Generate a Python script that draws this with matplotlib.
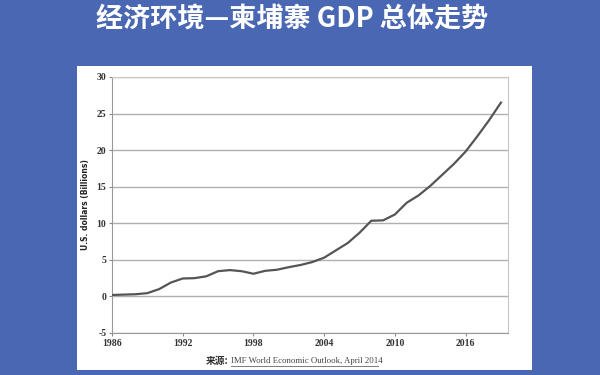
import matplotlib
matplotlib.use("Agg")
import matplotlib.pyplot as plt
from matplotlib.patches import Rectangle
from matplotlib.lines import Line2D

years = list(range(1986, 2020))
gdp = [0.2, 0.25, 0.3, 0.45, 1.0, 1.9, 2.45, 2.5, 2.75, 3.45,
       3.6, 3.45, 3.1, 3.5, 3.65, 4.0, 4.3, 4.7, 5.3, 6.3,
       7.3, 8.7, 10.35, 10.4, 11.2, 12.8, 13.8, 15.1, 16.6, 18.1,
       19.8, 21.9, 24.1, 26.5]
yticks = [-5, 0, 5, 10, 15, 20, 25, 30]
xticks = [1986, 1992, 1998, 2004, 2010, 2016]

title = "经济环境—柬埔寨 GDP 总体走势"
source = "IMF World Economic Outlook, April 2014"

plt.rcParams['font.family'] = ['Noto Sans CJK SC', 'DejaVu Sans']

fig = plt.figure(figsize=(6, 3.75), dpi=100)
fig.patch.set_facecolor('#4a67b3')

# white slide panel
fig.add_artist(Rectangle((77 / 600, 1 - 370 / 375), (532 - 77) / 600, (370 - 66) / 375,
                         transform=fig.transFigure, facecolor='white', edgecolor='none', zorder=0))

fig.text(0.487, 1 - 20 / 375, title, color='white', fontsize=19.5, fontweight='bold',
         ha='center', va='center')

ax = fig.add_axes([112 / 600, 1 - 333 / 375, (508 - 112) / 600, (333 - 77) / 375])
ax.set_facecolor('white')
ax.plot(years, gdp, color='#555555', lw=1.6, zorder=3)
ax.set_xlim(1986, 2019.6)
ax.set_ylim(-5, 30)
ax.set_yticks(yticks)
ax.set_xticks(xticks)
ax.set_yticklabels([str(v) for v in yticks])
ax.grid(axis='y', color='#b0b0b0', lw=1.0)
for s in ax.spines.values():
    s.set_color('#c8c8c8')
    s.set_linewidth(0.8)
ax.spines['left'].set_color('#999999')
ax.spines['bottom'].set_color('#999999')
ax.tick_params(axis='both', length=2, color='#888888', pad=2, labelsize=7, labelcolor='#333333')
for lab in ax.get_xticklabels() + ax.get_yticklabels():
    lab.set_family('Liberation Serif')
    lab.set_fontweight('bold')
ax.set_ylabel('U.S. dollars (Billions)', fontsize=5.5, fontweight='bold', color='#222222',
              family='DejaVu Sans')
ax.yaxis.set_label_coords(-0.055, 0.5)

fig.text(206 / 600, 1 - 361 / 375, '来源:', fontsize=7, fontweight='bold', color='#333333',
         ha='left', va='center')
fig.text(231 / 600, 1 - 361 / 375, source, fontsize=6.3, color='#444444', family='Liberation Serif',
         ha='left', va='center')
fig.add_artist(Line2D([231 / 600, 378 / 600], [1 - 366 / 375, 1 - 366 / 375],
                      transform=fig.transFigure, color='#666666', lw=0.6))

fig.savefig('out.png', dpi=100, facecolor=fig.get_facecolor())
